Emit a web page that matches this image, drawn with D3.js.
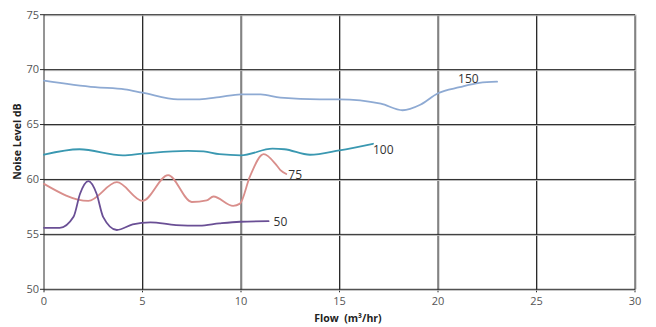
<!DOCTYPE html>
<html>
<head>
<meta charset="utf-8">
<script src="https://cdn.jsdelivr.net/npm/d3@7"></script>
<style>
  html, body { margin: 0; padding: 0; background: #fff; }
  svg { display: block; }
</style>
</head>
<body>
<svg id="chart" width="656" height="327"></svg>
<script>
const xTicks = [0, 5, 10, 15, 20, 25, 30];
const yTicks = [50, 55, 60, 65, 70, 75];

const flow150 = [0, 2.6, 4.1, 5, 6.8, 7.9, 8.9, 10, 11, 12, 14, 15, 17.1, 18.2, 19.1, 20, 21.1, 22.1, 23];
const noise150 = [69.0, 68.4, 68.2, 67.9, 67.3, 67.3, 67.5, 67.75, 67.75, 67.45, 67.3, 67.3, 66.9, 66.3, 66.8, 67.85, 68.4, 68.8, 68.9];

const flow100 = [0, 1.8, 4, 5, 7.3, 8.1, 8.9, 10, 11.6, 12.2, 13.5, 15, 16.7];
const noise100 = [62.25, 62.75, 62.2, 62.35, 62.6, 62.55, 62.3, 62.2, 62.8, 62.75, 62.25, 62.65, 63.25];

const flow75 = [0, 2.25, 3.7, 5.0, 6.3, 7.5, 8.26, 8.6, 9.6, 9.95, 10.45, 11.15, 11.8, 12.0, 12.3];
const noise75 = [59.6, 58.05, 59.75, 58.05, 60.4, 57.95, 58.1, 58.45, 57.6, 57.8, 60.25, 62.3, 61.3, 60.85, 60.5];

const flow50 = [0, 0.8, 1.5, 1.83, 2.25, 2.67, 3.0, 3.7, 4.5, 5.4, 6.7, 7.9, 8.9, 9.95, 11.4];
const noise50 = [55.6, 55.6, 56.6, 58.7, 59.85, 58.7, 56.6, 55.4, 55.9, 56.1, 55.85, 55.8, 56.0, 56.15, 56.2];

const seriesNames = ["150", "100", "75", "50"];

const series = [
  { name: seriesNames[0], xs: flow150, ys: noise150, color: "#8eaad3", dx: -39, dy: -3 },
  { name: seriesNames[1], xs: flow100, ys: noise100, color: "#3a98b1", dx: 0, dy: 6.5 },
  { name: seriesNames[2], xs: flow75, ys: noise75, color: "#d98e8b", dx: 2, dy: 0.5 },
  { name: seriesNames[3], xs: flow50, ys: noise50, color: "#6a4f95", dx: 5, dy: 1 }
];

const svg = d3.select("#chart");
const x = d3.scaleLinear().domain([0, 30]).range([44, 635]);
const y = d3.scaleLinear().domain([50, 75]).range([289.3, 14.7]);

const font = "'Open Sans', 'DejaVu Sans', sans-serif";

// grid: light shadow then dark line
const grid = svg.append("g");
xTicks.filter(t => t > 0).forEach(t => {
  grid.append("line").attr("x1", x(t) + 1).attr("x2", x(t) + 1)
    .attr("y1", y(75)).attr("y2", y(50)).attr("stroke", "#b8b8b8").attr("stroke-width", 1);
  grid.append("line").attr("x1", x(t)).attr("x2", x(t))
    .attr("y1", y(75)).attr("y2", y(50) + 3).attr("stroke", "#2a2a2a").attr("stroke-width", 1);
});
yTicks.forEach(t => {
  grid.append("line").attr("x1", x(0)).attr("x2", x(30) + 1)
    .attr("y1", y(t) + 1).attr("y2", y(t) + 1).attr("stroke", "#b8b8b8").attr("stroke-width", 1);
  grid.append("line").attr("x1", x(0) - 4).attr("x2", x(30))
    .attr("y1", y(t)).attr("y2", y(t)).attr("stroke", "#2a2a2a").attr("stroke-width", 1);
});
// y axis line
grid.append("line").attr("x1", x(0)).attr("x2", x(0))
  .attr("y1", y(75)).attr("y2", y(50) + 3).attr("stroke", "#2a2a2a").attr("stroke-width", 1);

// tick labels
svg.append("g").selectAll("text").data(yTicks).join("text")
  .attr("x", 39).attr("y", d => y(d)).attr("dy", "0.35em")
  .attr("text-anchor", "end").attr("font-family", font).attr("font-size", 11)
  .attr("fill", "#555").text(d => d);
svg.append("g").selectAll("text").data(xTicks).join("text")
  .attr("x", d => x(d)).attr("y", 301).attr("dy", "0.35em")
  .attr("text-anchor", "middle").attr("font-family", font).attr("font-size", 11)
  .attr("fill", "#555").text(d => d);

// axis titles
svg.append("text").attr("x", 348).attr("y", 318).attr("dy", "0.35em")
  .attr("text-anchor", "middle").attr("font-family", font).attr("font-size", 10.5)
  .attr("font-weight", "bold").attr("fill", "#222").attr("xml:space", "preserve")
  .text("Flow  (m³/hr)");
svg.append("text").attr("transform", "translate(17,141.5) rotate(-90)").attr("dy", "0.35em")
  .attr("text-anchor", "middle").attr("font-family", font).attr("font-size", 10.5)
  .attr("font-weight", "bold").attr("fill", "#222").text("Noise Level dB");

// lines
const line = d3.line().x(d => x(d[0])).y(d => y(d[1])).curve(d3.curveMonotoneX);
series.forEach(s => {
  const pts = s.xs.map((v, i) => [v, s.ys[i]]);
  svg.append("path").datum(pts).attr("d", line)
    .attr("fill", "none").attr("stroke", s.color).attr("stroke-width", 1.8)
    .attr("stroke-linejoin", "round").attr("stroke-linecap", "round");
  const last = pts[pts.length - 1];
  svg.append("text").attr("x", x(last[0]) + s.dx).attr("y", y(last[1]) + s.dy)
    .attr("dy", "0.35em").attr("font-family", font).attr("font-size", 12)
    .attr("fill", "#333").text(s.name);
});
</script>
</body>
</html>
